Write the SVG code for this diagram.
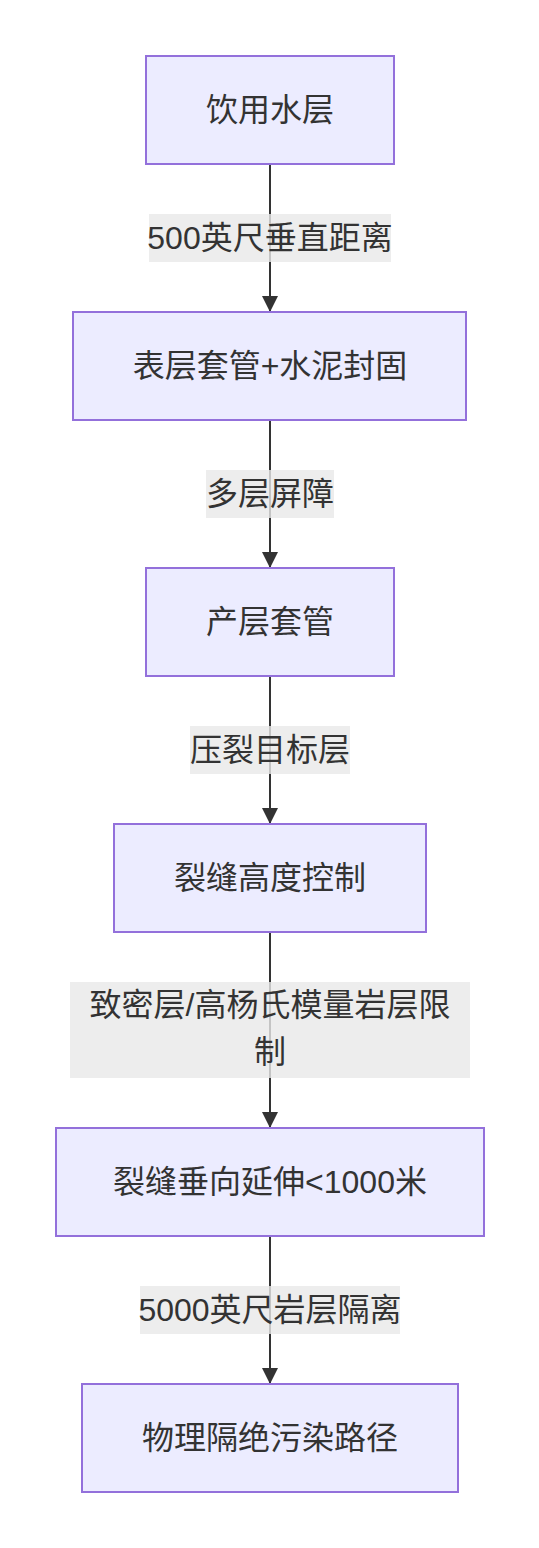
<svg xmlns="http://www.w3.org/2000/svg" width="539" height="1548" viewBox="0 0 539 1548">
<style>
.node rect{fill:#ECECFF;stroke:#9370DB;stroke-width:2}
text{font-family:"Liberation Sans","Noto Sans CJK SC",sans-serif;font-size:32px;fill:#333;text-anchor:middle;dominant-baseline:central}
.edge{stroke:#333;stroke-width:2;fill:none}
.lbl rect{fill:#e8e8e8;fill-opacity:0.8}
</style>
<defs>
<marker id="arrow" viewBox="0 0 10 10" refX="10" refY="5" markerUnits="userSpaceOnUse" markerWidth="16" markerHeight="16" orient="auto">
<path d="M0,0 L10,5 L0,10 z" fill="#333"/>
</marker>
</defs>
<g id="connectors">
<path class="edge" d="M270,164 L270,312" marker-end="url(#arrow)"/>
<path class="edge" d="M270,420 L270,568" marker-end="url(#arrow)"/>
<path class="edge" d="M270,676 L270,824" marker-end="url(#arrow)"/>
<path class="edge" d="M270,932 L270,1128" marker-end="url(#arrow)"/>
<path class="edge" d="M270,1236 L270,1384" marker-end="url(#arrow)"/>
<g class="lbl"><rect x="149" y="214" width="242" height="48"/><text x="270" y="238">500英尺垂直距离</text></g>
<g class="lbl"><rect x="206" y="470" width="128" height="48"/><text x="270" y="494">多层屏障</text></g>
<g class="lbl"><rect x="190" y="726" width="160" height="48"/><text x="270" y="750">压裂目标层</text></g>
<g class="lbl"><rect x="70" y="982" width="400" height="96"/><text x="270" y="1005">致密层/高杨氏模量岩层限</text><text x="270" y="1052">制</text></g>
<g class="lbl"><rect x="140" y="1286" width="260" height="48"/><text x="270" y="1310">5000英尺岩层隔离</text></g>
</g>
<g id="n1" class="node"><rect x="146" y="56" width="248" height="108"/><text x="270" y="110">饮用水层</text></g>
<g id="n2" class="node"><rect x="73" y="312" width="393" height="108"/><text x="270" y="366">表层套管+水泥封固</text></g>
<g id="n3" class="node"><rect x="146" y="568" width="248" height="108"/><text x="270" y="622">产层套管</text></g>
<g id="n4" class="node"><rect x="114" y="824" width="312" height="108"/><text x="270" y="878">裂缝高度控制</text></g>
<g id="n5" class="node"><rect x="56" y="1128" width="428" height="108"/><text x="270" y="1182">裂缝垂向延伸&lt;1000米</text></g>
<g id="n6" class="node"><rect x="82" y="1384" width="376" height="108"/><text x="270" y="1438">物理隔绝污染路径</text></g>
</svg>
